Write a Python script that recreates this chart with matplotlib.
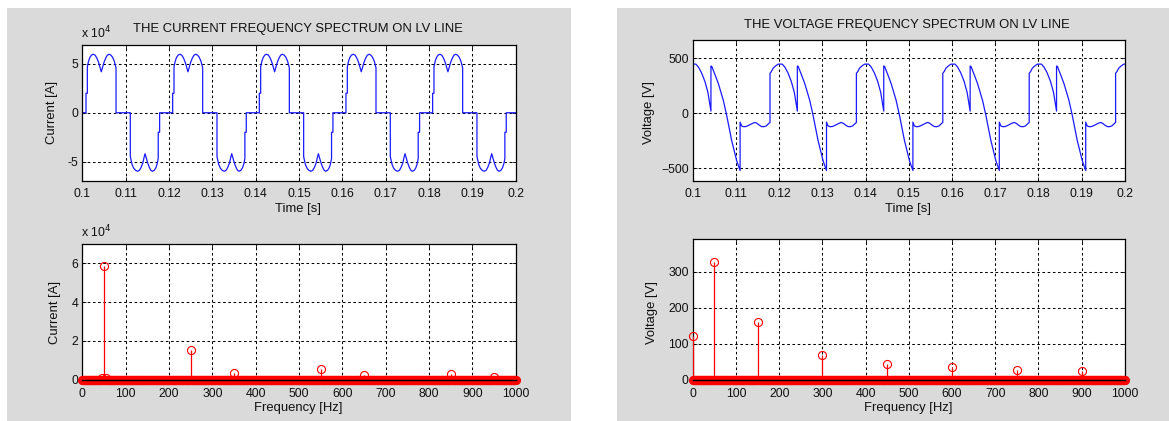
import numpy as np
import matplotlib
matplotlib.use("Agg")
import matplotlib.pyplot as plt
from matplotlib.patches import Rectangle

plt.rcParams['font.family'] = ['Liberation Sans', 'DejaVu Sans']

# ---------------- data ----------------
t_start = 0.1
period = 0.02
n_periods = 5

# one period of the LV line current (time offset in ms, current in A)
cur_tau_ms = [0.0, 0.83, 0.83, 1.14, 1.14, 1.4, 1.7, 2.1, 2.52, 2.95, 3.35, 3.75, 4.1, 4.36,
              4.62, 4.97, 5.37, 5.75, 6.14, 6.55, 6.95, 7.35, 7.76, 7.76,
              11.06, 11.06, 11.46, 11.85, 12.3, 12.77, 13.17, 13.55, 13.95, 14.22, 14.46,
              14.72, 15.07, 15.45, 15.8, 16.14, 16.55, 16.95, 17.25, 17.5, 17.5, 17.82, 17.82, 20.0]
cur_val = [0, 0, 2.0e4, 2.0e4, 4.7e4, 5.25e4, 5.65e4, 5.92e4, 6.0e4, 5.9e4, 5.6e4, 5.15e4, 4.6e4, 4.2e4,
           4.6e4, 5.15e4, 5.6e4, 5.9e4, 6.0e4, 5.92e4, 5.7e4, 5.3e4, 4.6e4, 0,
           0, -4.5e4, -5.3e4, -5.7e4, -5.92e4, -6.0e4, -5.9e4, -5.6e4, -5.15e4, -4.6e4, -4.2e4,
           -4.6e4, -5.15e4, -5.6e4, -5.9e4, -6.0e4, -5.92e4, -5.65e4, -5.25e4, -4.7e4, -2.0e4, -2.0e4, 0, 0]

# one period of the LV line voltage (time offset in ms, voltage in V)
volt_tau_ms = [0.0, 0.7, 1.3, 2.0, 2.8, 3.5, 4.2, 4.2, 4.4, 5.2, 5.9, 7.06, 7.84, 9.0, 10.16, 10.95, 10.95,
               11.3, 11.8, 12.3, 12.8, 13.4, 13.9, 14.4, 14.9, 15.4, 15.9, 16.4, 17.0, 17.7, 17.87, 17.87,
               18.2, 18.6, 19.0, 19.4, 19.8, 20.0]
volt_val = [447, 447, 420, 370, 290, 190, 20, 430, 425, 345, 272, 119, -18, -248, -431, -520, -80,
            -115, -122, -120, -112, -100, -90, -83, -92, -108, -120, -122, -115, -88, -85, 364,
            380, 410, 425, 437, 447, 447]

# spectra
freq_bins = np.arange(0, 1001, 1)
cur_harm_f = [45, 50, 55, 250, 350, 550, 650, 850, 950]
cur_harm_a = [800, 58600, 800, 15300, 3400, 5200, 2400, 2900, 1500]
volt_harm_f = [0, 50, 150, 300, 450, 600, 750, 900]
volt_harm_a = [121, 326, 160, 68, 45, 34, 27, 24]

time_ticks = [0.1, 0.11, 0.12, 0.13, 0.14, 0.15, 0.16, 0.17, 0.18, 0.19, 0.2]
time_tick_labels = ['0.1', '0.11', '0.12', '0.13', '0.14', '0.15', '0.16', '0.17', '0.18', '0.19', '0.2']
freq_ticks = [0, 100, 200, 300, 400, 500, 600, 700, 800, 900, 1000]
cur_time_yticks = [-5e4, 0, 5e4]
cur_time_ylabels = ['-5', '0', '5']
volt_time_yticks = [-500, 0, 500]
cur_freq_yticks = [0, 2e4, 4e4, 6e4]
cur_freq_ylabels = ['0', '2', '4', '6']
volt_freq_yticks = [0, 100, 200, 300]

# build full periodic series
def tile(tau_ms, vals):
    t = np.concatenate([t_start + k * period + np.asarray(tau_ms) / 1000.0 for k in range(n_periods)])
    v = np.concatenate([np.asarray(vals, dtype=float) for _ in range(n_periods)])
    return t, v

t_cur, i_cur = tile(cur_tau_ms, cur_val)
t_volt, v_volt = tile(volt_tau_ms, volt_val)

cur_amp = np.zeros(len(freq_bins))
for f, a in zip(cur_harm_f, cur_harm_a):
    cur_amp[f] = a
volt_amp = np.zeros(len(freq_bins))
for f, a in zip(volt_harm_f, volt_harm_a):
    volt_amp[f] = a

# ---------------- figure ----------------
W, H = 1169, 421
fig = plt.figure(figsize=(W / 100, H / 100), dpi=100)
fig.patch.set_facecolor('white')
panel_col = '#dadada'
fig.patches.append(Rectangle((7 / W, 0), (571 - 7) / W, (H - 8) / H, transform=fig.transFigure,
                             facecolor=panel_col, edgecolor='none', zorder=-10))
fig.patches.append(Rectangle((617 / W, 0), (W - 617) / W, (H - 8) / H, transform=fig.transFigure,
                             facecolor=panel_col, edgecolor='none', zorder=-10))

def ax_at(x0, x1, y0, y1):
    return fig.add_axes([x0 / W, (H - y1) / H, (x1 - x0) / W, (y1 - y0) / H])

txt_col = '#101010'
tick_fs = 8.8
lab_fs = 9.4

def style(ax):
    ax.set_facecolor('white')
    ax.set_axisbelow(True)
    ax.grid(True, color='black', linestyle=(0, (2.5, 2.5)), linewidth=0.75)
    ax.tick_params(direction='in', length=3, top=True, right=True, labelsize=tick_fs,
                   colors='black', labelcolor=txt_col, width=0.6, pad=3)
    for s in ax.spines.values():
        s.set_color('black')
        s.set_linewidth(0.9)

def ftext(x, y, s, **kw):
    fig.text(x / W, 1 - y / H, s, color=txt_col, **kw)

# top-left: current waveform
ax1 = ax_at(82.4, 515.7, 44.5, 181)
style(ax1)
ax1.plot(t_cur, i_cur, color='#1a1aff', linewidth=0.9)
ax1.set_xlim(0.1, 0.2)
ax1.set_ylim(-7e4, 7e4)
ax1.set_xticks(time_ticks)
ax1.set_xticklabels(time_tick_labels)
ax1.set_yticks(cur_time_yticks)
ax1.set_yticklabels(cur_time_ylabels)
ax1.tick_params(axis='x', pad=5)
ftext(298, 29, 'THE CURRENT FREQUENCY SPECTRUM ON LV LINE', fontsize=lab_fs, ha='center', va='center')
ftext(81, 33, r'x 10$^{4}$', fontsize=lab_fs - 0.6, ha='left', va='center')
ftext(52, 113, 'Current [A]', fontsize=lab_fs, rotation=90, ha='center', va='center')
ftext(298, 209, 'Time [s]', fontsize=lab_fs, ha='center', va='center')

# top-right: voltage waveform
ax2 = ax_at(692.8, 1124.8, 40, 181)
style(ax2)
ax2.plot(t_volt, v_volt, color='#1a1aff', linewidth=0.9)
ax2.set_xlim(0.1, 0.2)
ax2.set_ylim(-615, 666)
ax2.set_xticks(time_ticks)
ax2.set_xticklabels(time_tick_labels)
ax2.set_yticks(volt_time_yticks)
ax2.tick_params(axis='x', pad=5)
ftext(907, 25, 'THE VOLTAGE FREQUENCY SPECTRUM ON LV LINE', fontsize=lab_fs, ha='center', va='center')
ftext(649, 113, 'Voltage [V]', fontsize=lab_fs, rotation=90, ha='center', va='center')
ftext(908, 209, 'Time [s]', fontsize=lab_fs, ha='center', va='center')

def spectrum(ax, f, a):
    nz = a > 0
    ax.vlines(f[nz], 0, a[nz], color='red', linewidth=0.9, zorder=3)
    ax.plot(f, a, linestyle='none', marker='o', markersize=5.8, markerfacecolor='none',
            markeredgecolor='red', markeredgewidth=0.8, clip_on=False, zorder=4)
    ax.axhline(0, color='black', linewidth=1.0, zorder=5, clip_on=False)

# bottom-left: current spectrum
ax3 = ax_at(82.4, 515.7, 244, 379.5)
style(ax3)
spectrum(ax3, freq_bins, cur_amp)
ax3.set_xlim(0, 1000)
ax3.set_ylim(0, 7e4)
ax3.set_xticks(freq_ticks)
ax3.set_yticks(cur_freq_yticks)
ax3.set_yticklabels(cur_freq_ylabels)
ax3.tick_params(axis='x', pad=6)
ftext(81, 232, r'x 10$^{4}$', fontsize=lab_fs - 0.6, ha='left', va='center')
ftext(55, 313, 'Current [A]', fontsize=lab_fs, rotation=90, ha='center', va='center')
ftext(298, 408, 'Frequency [Hz]', fontsize=lab_fs, ha='center', va='center')

# bottom-right: voltage spectrum
ax4 = ax_at(692.8, 1124.8, 239.3, 379.7)
style(ax4)
spectrum(ax4, freq_bins, volt_amp)
ax4.set_xlim(0, 1000)
ax4.set_ylim(0, 390)
ax4.set_xticks(freq_ticks)
ax4.set_yticks(volt_freq_yticks)
ax4.tick_params(axis='x', pad=6)
ftext(652, 313, 'Voltage [V]', fontsize=lab_fs, rotation=90, ha='center', va='center')
ftext(908, 408, 'Frequency [Hz]', fontsize=lab_fs, ha='center', va='center')

fig.savefig('out.png', dpi=100, facecolor='white')
